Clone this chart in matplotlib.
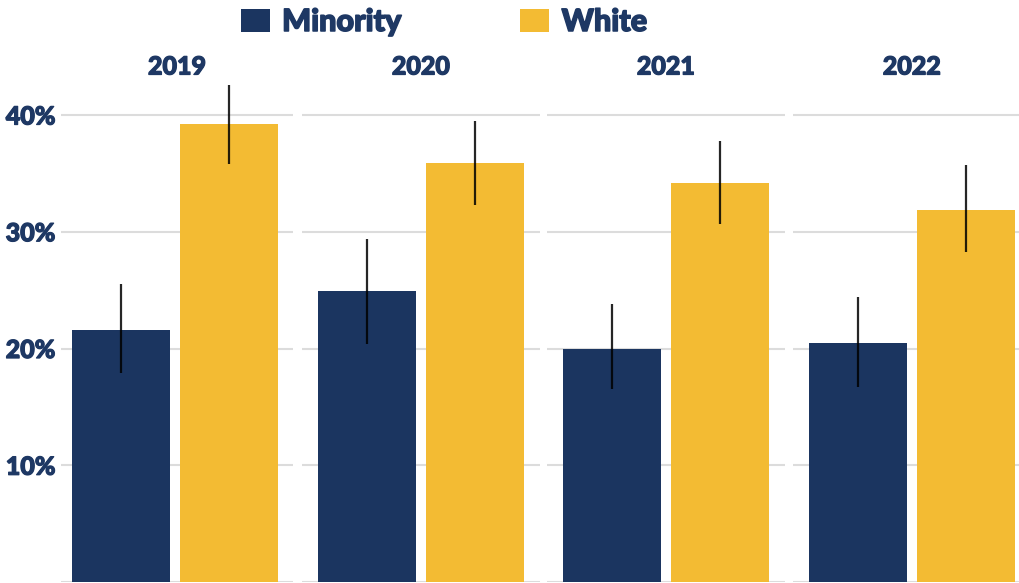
import matplotlib
matplotlib.use("Agg")
import matplotlib.pyplot as plt
import matplotlib.patheffects as pe
from matplotlib.ticker import FuncFormatter

years = ["2019", "2020", "2021", "2022"]
groups = ["Minority", "White"]
minority = [0.216, 0.249, 0.200, 0.205]
minority_lo = [0.179, 0.204, 0.165, 0.167]
minority_hi = [0.255, 0.294, 0.238, 0.244]
white = [0.392, 0.359, 0.342, 0.319]
white_lo = [0.358, 0.323, 0.307, 0.283]
white_hi = [0.426, 0.395, 0.378, 0.357]
yticks = [0.0, 0.1, 0.2, 0.3, 0.4]

NAVY = "#1b3560"
GOLD = "#f3bb33"
TXT = "#1e3864"

plt.rcParams["font.family"] = ["Lato", "DejaVu Sans"]

W, H = 1020, 583
fig = plt.figure(figsize=(W / 100, H / 100), dpi=100)

lefts = [61, 302, 547, 793]
widths = [232, 238, 238, 238]
xlims = [(0.445, 2.593), (0.4, 2.6), (0.4, 2.6), (0.4, 2.6)]
bottom_px, top_px = 582, 80
ymax = 0.43
heavy = [pe.withStroke(linewidth=0.9, foreground=TXT)]

handles = None
for i, yr in enumerate(years):
    ax = fig.add_axes([lefts[i] / W, (H - bottom_px) / H, widths[i] / W,
                       (bottom_px - top_px) / H])
    vals = [minority[i], white[i]]
    lo = [minority_lo[i], white_lo[i]]
    hi = [minority_hi[i], white_hi[i]]
    xs = [1, 2]
    bars = ax.bar(xs, vals, width=0.9, color=[NAVY, GOLD], zorder=2)
    if handles is None:
        handles = list(bars)
    ax.vlines(xs, lo, hi, color="black", lw=1.6, alpha=0.85, zorder=3)
    ax.set_xlim(*xlims[i])
    ax.set_ylim(0, ymax)
    ax.set_yticks(yticks)
    ax.grid(axis="y", color="#dcdcdc", lw=1.5, zorder=0)
    ax.set_axisbelow(True)
    ax.set_xticks([])
    for s in ax.spines.values():
        s.set_visible(False)
    ax.tick_params(axis="y", length=0, pad=4)
    if i == 0:
        ax.yaxis.set_major_formatter(
            FuncFormatter(lambda v, p: "" if v == 0 else f"{v*100:.0f}%"))
        for lab in ax.get_yticklabels():
            lab.set_fontsize(18)
            lab.set_fontweight("black")
            lab.set_color(TXT)
            lab.set_path_effects(heavy)
    else:
        ax.set_yticklabels([])
    ax.text(0.5, 1 + (top_px - 67) / (bottom_px - top_px),
            yr, transform=ax.transAxes, ha="center", va="center",
            fontsize=18, fontweight="black", color=TXT, path_effects=heavy)

leg = fig.legend(handles, groups, loc="center", bbox_to_anchor=(444 / W, 1 - 22 / H),
                 ncol=2, frameon=False, handlelength=0.95, handleheight=0.75,
                 handletextpad=0.4, columnspacing=3.9,
                 prop={"size": 22, "weight": "black"})
for t in leg.get_texts():
    t.set_color(TXT)
    t.set_path_effects([pe.withStroke(linewidth=1.1, foreground=TXT)])

fig.savefig("out.png", dpi=100)
